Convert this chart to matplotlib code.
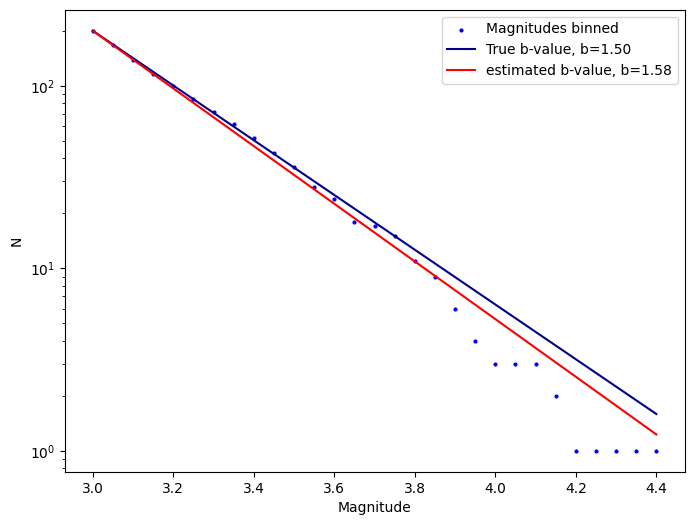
import numpy as np
from matplotlib import pyplot as plt

mags = [3.0, 3.05, 3.1, 3.15, 3.2, 3.25, 3.3, 3.35, 3.4, 3.45, 3.5, 3.55, 3.6, 3.65,
        3.7, 3.75, 3.8, 3.85, 3.9, 3.95, 4.0, 4.05, 4.1, 4.15, 4.2, 4.25, 4.3, 4.35, 4.4]
counts = [200, 168, 139, 116, 99, 85, 72, 62, 52, 43, 36, 28, 24, 18,
          17, 15, 11, 9, 6, 4, 3, 3, 3, 2, 1, 1, 1, 1, 1]

n0 = 200
m_min = 3.0
b_true = 1.50
b_est = 1.58

m = np.array(mags)
fig = plt.figure(figsize=(8, 6))
plt.scatter(mags, counts, s=4, c='b', label='Magnitudes binned')
plt.plot(m, n0 * 10 ** (-b_true * (m - m_min)), c='darkblue',
         label='True b-value, b=%.2f' % b_true)
plt.plot(m, n0 * 10 ** (-b_est * (m - m_min)), c='red',
         label='estimated b-value, b=%.2f' % b_est)
plt.yscale('log')
plt.xlabel('Magnitude')
plt.ylabel('N')
plt.legend()

plt.savefig('out.png', bbox_inches='tight')
